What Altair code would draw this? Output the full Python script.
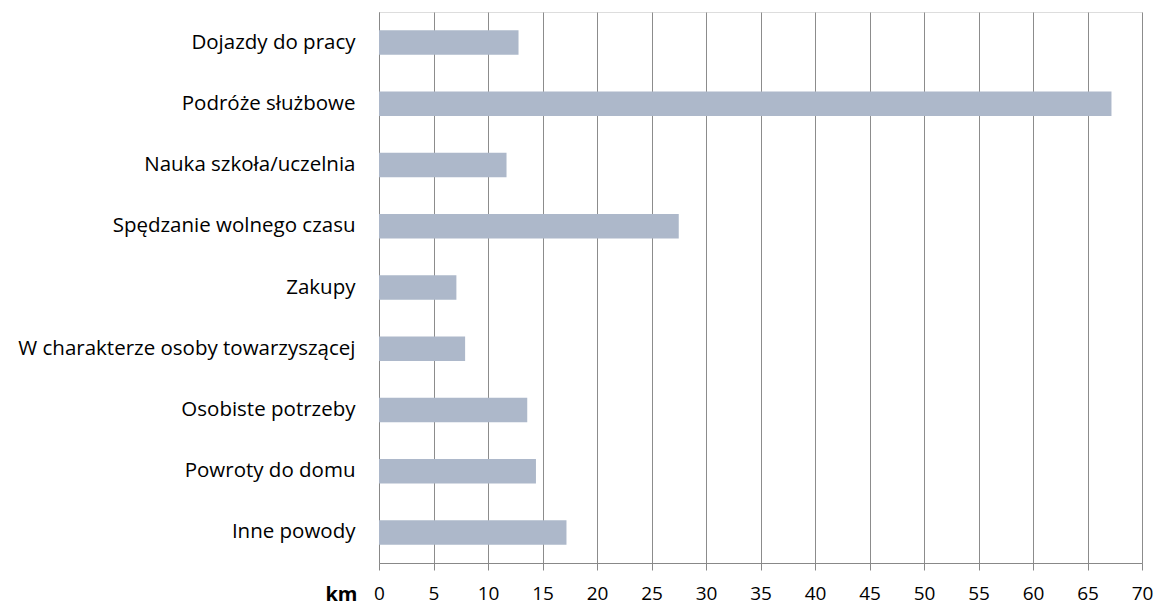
import altair as alt
import pandas as pd

categories = [
    "Dojazdy do pracy",
    "Podróże służbowe",
    "Nauka szkoła/uczelnia",
    "Spędzanie wolnego czasu",
    "Zakupy",
    "W charakterze osoby towarzyszącej",
    "Osobiste potrzeby",
    "Powroty do domu",
    "Inne powody",
]
values = [12.8, 67.2, 11.7, 27.5, 7.1, 7.9, 13.6, 14.4, 17.2]
x_ticks = list(range(0, 75, 5))

df = pd.DataFrame({"cat": categories, "km": values})

FONT = "Open Sans"

chart = (
    alt.Chart(df)
    .mark_bar(color="#ADB8CA")
    .encode(
        x=alt.X(
            "km:Q",
            scale=alt.Scale(domain=[0, 70], nice=False, zero=True),
            axis=alt.Axis(
                values=x_ticks,
                title="km",
                titleAngle=0,
                titleAlign="right",
                titleBaseline="middle",
                titleX=-22,
                titleY=31,
                titleFont=FONT,
                titleFontSize=20,
                titleFontWeight="bold",
                titleColor="#000000",
                labelFont=FONT,
                labelFontSize=19,
                labelColor="#000000",
                labelPadding=14,
                tickSize=7,
                tickColor="#888888",
                domainColor="#888888",
                gridColor="#8C8C8C",
                grid=True,
                labelFlush=False,
            ),
        ),
        y=alt.Y(
            "cat:N",
            sort=categories,
            scale=alt.Scale(paddingInner=0.6, paddingOuter=0.3),
            axis=alt.Axis(
                title=None,
                ticks=False,
                labelFont=FONT,
                labelFontSize=20.5,
                labelColor="#000000",
                labelPadding=24,
                domainColor="#888888",
                grid=False,
                labelLimit=400,
            ),
        ),
    )
    .properties(
        width=763,
        height=551,
        padding={"left": 371, "top": 4, "right": 12, "bottom": 43},
        autosize=alt.AutoSizeParams(type="none"),
    )
    .configure_view(stroke=None)
    .configure(background="#ffffff")
)

chart.save("out.html", embed_options={"renderer": "svg", "actions": False})
